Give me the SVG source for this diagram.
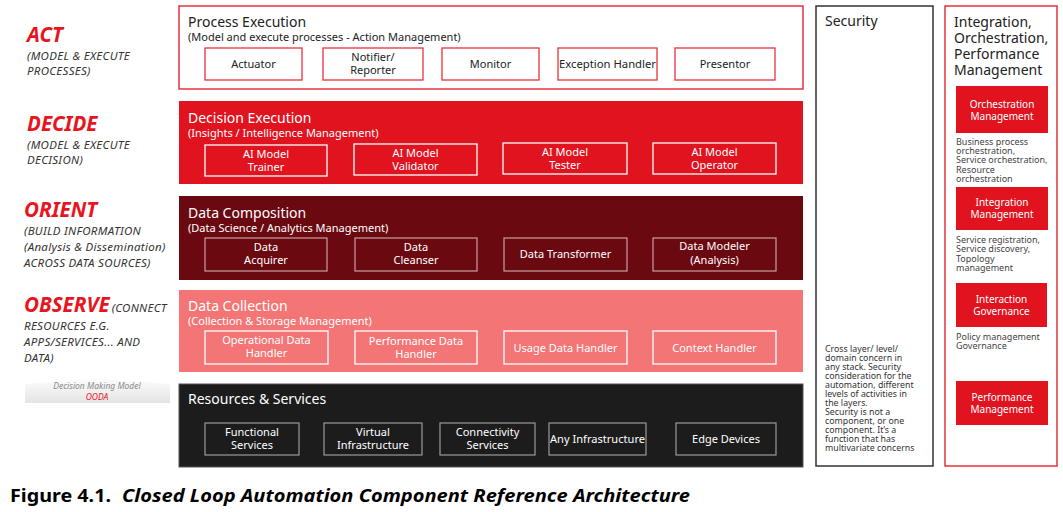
<svg xmlns="http://www.w3.org/2000/svg" width="1063" height="512" viewBox="0 0 1063 512">
<defs>
<linearGradient id="gg" x1="0" y1="0" x2="0" y2="1">
<stop offset="0" stop-color="#fdfdfd"/>
<stop offset="1" stop-color="#e4e4e4"/>
</linearGradient>
<style>
text{font-family:"Noto Sans","Open Sans","DejaVu Sans",sans-serif}
.lh{font-size:20.5px;font-weight:bold;font-style:italic;fill:#e8141e}
.ls{font-size:11.5px;font-style:italic;fill:#333;letter-spacing:0.3px}
.bt{font-size:14px}
.bs{font-size:11px}
.bx{font-size:11px;text-anchor:middle}
.wb{fill:#fff;stroke:#e8323c;stroke-width:1.3}
.rb{fill:none;stroke:#fff;stroke-width:1.3}
.db{fill:none;stroke:#c9a0a0;stroke-width:1.2}
.pb{fill:none;stroke:#fff;stroke-width:1.3}
.kb{fill:none;stroke:#9a9a9a;stroke-width:1.2}
.w{fill:#fff}
.k{fill:#222}
.sec{font-size:8.8px;fill:#333}
.rt{font-size:10px;fill:#fff;text-anchor:middle}
.rd{font-size:9px;fill:#444}
.red{fill:#e0131f}
</style>
</defs>

<g id="labels">
<text class="lh" x="27" y="42">ACT</text>
<text class="ls" x="27" y="60">(MODEL &amp; EXECUTE</text>
<text class="ls" x="27" y="75">PROCESSES)</text>
<text class="lh" x="27" y="131">DECIDE</text>
<text class="ls" x="27" y="149">(MODEL &amp; EXECUTE</text>
<text class="ls" x="27" y="164">DECISION)</text>
<text class="lh" x="24" y="217">ORIENT</text>
<text class="ls" x="24" y="235">(BUILD INFORMATION</text>
<text class="ls" x="24" y="251">(Analysis &amp; Dissemination)</text>
<text class="ls" x="24" y="267">ACROSS DATA SOURCES)</text>
<text x="24" y="312"><tspan class="lh">OBSERVE</tspan><tspan class="ls" dx="2">(CONNECT</tspan></text>
<text class="ls" x="24" y="330">RESOURCES E.G.</text>
<text class="ls" x="24" y="346">APPS/SERVICES... AND</text>
<text class="ls" x="24" y="362">DATA)</text>
</g>

<g id="ooda">
<polygon points="25,384 97,378 170,384 170,403 25,403" fill="url(#gg)"/>
<text x="97" y="389" text-anchor="middle" font-size="8.5" font-style="italic" fill="#8a8a8a">Decision Making Model</text>
<text x="97" y="400" text-anchor="middle" font-size="8.5" font-style="italic" fill="#e8141e">OODA</text>
</g>

<g id="act-band">
<rect x="179" y="6" width="624" height="83" fill="#fff" stroke="#e8323c" stroke-width="1.5"/>
<text class="bt k" x="188" y="27">Process Execution</text>
<text class="bs k" x="188" y="41">(Model and execute processes - Action Management)</text>
<g id="actuator"><rect class="wb" x="205" y="48" width="97" height="32"/><text class="bx k" x="253.5" y="68">Actuator</text></g>
<g id="notifier"><rect class="wb" x="323" y="48" width="100" height="32"/><text class="bx k" x="373" y="61">Notifier/</text><text class="bx k" x="373" y="74">Reporter</text></g>
<g id="monitor"><rect class="wb" x="442" y="48" width="97" height="32"/><text class="bx k" x="490.5" y="68">Monitor</text></g>
<g id="exception"><rect class="wb" x="558" y="48" width="99" height="32"/><text class="bx k" x="607.5" y="68" textLength="97" lengthAdjust="spacingAndGlyphs">Exception Handler</text></g>
<g id="presentor"><rect class="wb" x="675" y="48" width="100" height="32"/><text class="bx k" x="725" y="68">Presentor</text></g>
</g>

<g id="decide-band">
<rect x="179" y="101" width="624" height="83" fill="#e0131f"/>
<text class="bt w" x="188" y="123">Decision Execution</text>
<text class="bs w" x="188" y="137">(Insights / Intelligence Management)</text>
<g id="trainer"><rect class="rb" x="205" y="145" width="122" height="31"/><text class="bx w" x="266" y="158">AI Model</text><text class="bx w" x="266" y="171">Trainer</text></g>
<g id="validator"><rect class="rb" x="354" y="144" width="123" height="31"/><text class="bx w" x="415.5" y="157">AI Model</text><text class="bx w" x="415.5" y="170">Validator</text></g>
<g id="tester"><rect class="rb" x="503" y="143" width="124" height="31"/><text class="bx w" x="565" y="156">AI Model</text><text class="bx w" x="565" y="169">Tester</text></g>
<g id="operator"><rect class="rb" x="653" y="143" width="123" height="31"/><text class="bx w" x="714.5" y="156">AI Model</text><text class="bx w" x="714.5" y="169">Operator</text></g>
</g>

<g id="orient-band">
<rect x="179" y="196" width="624" height="84" fill="#6b0911"/>
<text class="bt w" x="188" y="218">Data Composition</text>
<text class="bs w" x="188" y="232">(Data Science / Analytics Management)</text>
<g id="acquirer"><rect class="db" x="205" y="238" width="122" height="33"/><text class="bx w" x="266" y="251">Data</text><text class="bx w" x="266" y="264">Acquirer</text></g>
<g id="cleanser"><rect class="db" x="355" y="238" width="122" height="33"/><text class="bx w" x="416" y="251">Data</text><text class="bx w" x="416" y="264">Cleanser</text></g>
<g id="transformer"><rect class="db" x="504" y="238" width="123" height="33"/><text class="bx w" x="565.5" y="258">Data Transformer</text></g>
<g id="modeler"><rect class="db" x="653" y="238" width="123" height="33"/><text class="bx w" x="714.5" y="250">Data Modeler</text><text class="bx w" x="714.5" y="264">(Analysis)</text></g>
</g>

<g id="observe-band">
<rect x="179" y="290" width="624" height="82" fill="#f47575"/>
<text class="bt w" x="188" y="311">Data Collection</text>
<text class="bs w" x="188" y="325">(Collection &amp; Storage Management)</text>
<g id="operational"><rect class="pb" x="205" y="331" width="123" height="33"/><text class="bx w" x="266.5" y="344">Operational Data</text><text class="bx w" x="266.5" y="357">Handler</text></g>
<g id="performance"><rect class="pb" x="355" y="331" width="122" height="33"/><text class="bx w" x="416" y="345">Performance Data</text><text class="bx w" x="416" y="358">Handler</text></g>
<g id="usage"><rect class="pb" x="504" y="331" width="123" height="33"/><text class="bx w" x="565.5" y="352">Usage Data Handler</text></g>
<g id="context"><rect class="pb" x="653" y="331" width="123" height="33"/><text class="bx w" x="714.5" y="352">Context Handler</text></g>
</g>

<g id="resources-band">
<rect x="179" y="384" width="624" height="83" fill="#1c1c1c" stroke="#555" stroke-width="1"/>
<text class="bt w" x="188" y="404">Resources &amp; Services</text>
<g id="functional"><rect class="kb" x="205" y="423" width="94" height="32"/><text class="bx w" x="252" y="436">Functional</text><text class="bx w" x="252" y="449">Services</text></g>
<g id="virtual"><rect class="kb" x="324" y="423" width="98" height="32"/><text class="bx w" x="373" y="436">Virtual</text><text class="bx w" x="373" y="449">Infrastructure</text></g>
<g id="connectivity"><rect class="kb" x="440" y="423" width="95" height="32"/><text class="bx w" x="487.5" y="436">Connectivity</text><text class="bx w" x="487.5" y="449">Services</text></g>
<g id="anyinfra"><rect class="kb" x="549" y="423" width="97" height="32"/><text class="bx w" x="597.5" y="443" textLength="95" lengthAdjust="spacingAndGlyphs">Any Infrastructure</text></g>
<g id="edge"><rect class="kb" x="676" y="423" width="100" height="32"/><text class="bx w" x="726" y="443">Edge Devices</text></g>
</g>

<g id="security">
<rect x="816" y="6" width="117" height="460" fill="#fff" stroke="#333" stroke-width="1.5"/>
<text class="bt k" x="825" y="26">Security</text>
<text class="sec" x="825" y="352">Cross layer/ level/</text>
<text class="sec" x="825" y="361">domain concern in</text>
<text class="sec" x="825" y="370">any stack. Security</text>
<text class="sec" x="825" y="379">consideration for the</text>
<text class="sec" x="825" y="388">automation, different</text>
<text class="sec" x="825" y="397">levels of activities in</text>
<text class="sec" x="825" y="406">the layers.</text>
<text class="sec" x="825" y="415">Security is not a</text>
<text class="sec" x="825" y="424">component, or one</text>
<text class="sec" x="825" y="433">component. It’s a</text>
<text class="sec" x="825" y="442">function that has</text>
<text class="sec" x="825" y="451">multivariate concerns</text>
</g>

<g id="integration">
<rect x="945" y="6" width="112" height="460" fill="#fff" stroke="#e8323c" stroke-width="1.5"/>
<text class="bt k" x="954" y="27">Integration,</text>
<text class="bt k" x="954" y="43">Orchestration,</text>
<text class="bt k" x="954" y="59">Performance</text>
<text class="bt k" x="954" y="75">Management</text>
<g id="orchestration-mgmt">
<rect class="red" x="956" y="86" width="92" height="47"/>
<text class="rt" x="1002" y="108">Orchestration</text>
<text class="rt" x="1002" y="120">Management</text>
<text class="rd" x="956" y="145">Business process</text>
<text class="rd" x="956" y="154">orchestration,</text>
<text class="rd" x="956" y="163">Service orchestration,</text>
<text class="rd" x="956" y="173">Resource</text>
<text class="rd" x="956" y="182">orchestration</text>
</g>
<g id="integration-mgmt">
<rect class="red" x="956" y="187" width="92" height="43"/>
<text class="rt" x="1002" y="206">Integration</text>
<text class="rt" x="1002" y="218">Management</text>
<text class="rd" x="956" y="243">Service registration,</text>
<text class="rd" x="956" y="252">Service discovery,</text>
<text class="rd" x="956" y="262">Topology</text>
<text class="rd" x="956" y="271">management</text>
</g>
<g id="interaction-gov">
<rect class="red" x="956" y="283" width="91" height="44"/>
<text class="rt" x="1001.5" y="303">Interaction</text>
<text class="rt" x="1001.5" y="315">Governance</text>
<text class="rd" x="956" y="340">Policy management</text>
<text class="rd" x="956" y="349">Governance</text>
</g>
<g id="performance-mgmt">
<rect class="red" x="956" y="381" width="92" height="44"/>
<text class="rt" x="1002" y="401">Performance</text>
<text class="rt" x="1002" y="413">Management</text>
</g>
</g>

<g id="connectors"></g>

<g id="caption">
<text x="10" y="502" font-family="Liberation Sans, sans-serif" font-size="18" font-weight="bold" fill="#000"><tspan textLength="101" lengthAdjust="spacingAndGlyphs">Figure 4.1.</tspan><tspan x="122" font-style="italic" textLength="568" lengthAdjust="spacingAndGlyphs">Closed Loop Automation Component Reference Architecture</tspan></text>
</g>
</svg>
